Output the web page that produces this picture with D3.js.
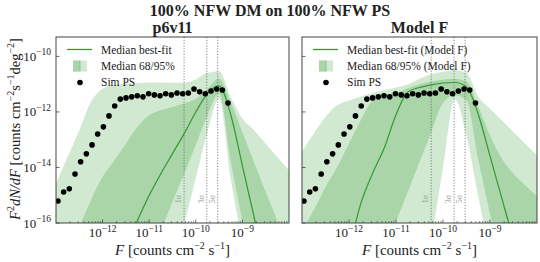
<!DOCTYPE html>
<html>
<head>
<meta charset="utf-8">
<title>100% NFW DM on 100% NFW PS</title>
<style>
    body { margin: 0; background: #fff; }
    svg text { font-family: "Liberation Serif", "DejaVu Serif", serif; fill: #222; }
</style>
</head>
<body>
<svg id="chart" width="540" height="262"></svg>
<script src="https://d3js.org/d3.v7.min.js"></script>
<script>
    // simulated point-source counts, flux bins in counts cm^-2 s^-1
    const simFlux = [1.10e-13, 1.46e-13, 1.93e-13, 2.56e-13, 3.38e-13, 4.48e-13, 5.93e-13, 7.84e-13,
        1.04e-12, 1.37e-12, 1.82e-12, 2.40e-12, 3.18e-12, 4.21e-12, 5.56e-12, 7.36e-12, 9.74e-12,
        1.29e-11, 1.71e-11, 2.26e-11, 2.99e-11, 3.95e-11, 5.23e-11, 6.92e-11, 9.15e-11,
        1.21e-10, 1.60e-10, 2.12e-10, 2.81e-10, 3.71e-10, 4.91e-10];
    const simPS = [6.2e-16, 1.3e-15, 1.7e-15, 5.8e-15, 1.6e-14, 3.1e-14, 6.5e-14, 1.6e-13,
        2.9e-13, 7.2e-13, 1.64e-12, 2.9e-12, 3.2e-12, 3.5e-12, 3.8e-12, 3.5e-12, 4.5e-12,
        4.1e-12, 3.8e-12, 4.5e-12, 4.1e-12, 4.8e-12, 4.5e-12, 4.8e-12, 6.7e-12,
        5.3e-12, 4.5e-12, 5.7e-12, 6.7e-12, 6.2e-12, 2.1e-12];

    // flux grid for the posterior bands
    const bandFlux = [1e-13, 1.78e-13, 3.16e-13, 5.62e-13, 1e-12, 1.78e-12, 3.16e-12, 5.62e-12,
        1e-11, 1.78e-11, 3.16e-11, 5.62e-11, 1e-10, 1.78e-10, 3.16e-10, 5.62e-10,
        1e-9, 1.78e-9, 3.16e-9, 5.62e-9, 1e-8];

    // p6v11 fit
    const p6Median = [1e-18, 1e-18, 1e-18, 1e-18, 1e-18, 2.0e-18, 1.6e-17, 1.26e-16, 1e-15, 6.0e-15, 3.16e-14,
        1.66e-13, 1e-12, 4.57e-12, 8.7e-12, 7.94e-13, 1.15e-14, 1.66e-16, 2.5e-18, 1e-18, 1e-18];
    const p6Hi95 = [2.63e-15, 2.4e-14, 2.19e-13, 2.29e-12, 6.9e-12, 9.1e-12, 1.05e-11, 1.1e-11, 1.15e-11,
        1.15e-11, 1.12e-11, 1.12e-11, 1.48e-11, 2.57e-11, 2.95e-11, 3.5e-12, 5.75e-13, 2.2e-13, 7.2e-14,
        2.4e-14, 7.9e-15];
    const p6Hi68 = [1e-18, 8.1e-18, 7.2e-17, 6.6e-16, 4.6e-15, 1.8e-14, 7.2e-14, 2.9e-13, 7.6e-13, 1.15e-12,
        1.5e-12, 2.0e-12, 3.0e-12, 6.9e-12, 1.58e-11, 2.24e-12, 1.86e-13, 1.55e-14, 1.3e-15, 1.1e-16, 3.2e-18];
    const p6Lo68 = [1e-18, 1e-18, 1e-18, 1e-18, 1e-18, 1e-18, 1e-18, 1e-18, 4.5e-18, 5e-17, 5.8e-16, 6.0e-15,
        6.6e-14, 7.6e-13, 4.6e-12, 1.7e-14, 1.15e-16, 1e-18, 1e-18, 1e-18, 1e-18];
    const p6Lo95 = [1e-18, 1e-18, 1e-18, 1e-18, 1e-18, 1e-18, 1e-18, 1e-18, 1e-18, 1e-18, 2e-18, 8.9e-17,
        4.2e-15, 1.95e-13, 3.0e-12, 3.9e-15, 2.5e-17, 1e-18, 1e-18, 1e-18, 1e-18];

    // Model F fit
    const mfMedian = [1e-18, 1e-18, 1e-18, 1e-18, 1.26e-17, 5.0e-16, 6.0e-15, 5.0e-14, 7.9e-13, 5.25e-12,
        7.6e-12, 9.5e-12, 1.1e-11, 1.15e-11, 7.9e-12, 8.3e-13, 2.6e-14, 7.9e-16, 2.5e-17, 1e-18, 1e-18];
    const mfHi95 = [3.6e-14, 1.66e-13, 6.6e-13, 1.74e-12, 2.6e-12, 3.6e-12, 4.8e-12, 6.0e-12, 7.6e-12,
        9.8e-12, 1.58e-11, 2.3e-11, 2.8e-11, 3.16e-11, 2.5e-11, 3.5e-12, 1.3e-12, 5.0e-13, 1.9e-13,
        7.2e-14, 2.75e-14];
    const mfHi68 = [5.5e-17, 2.9e-16, 2.0e-15, 1.05e-14, 7.2e-14, 5.0e-13, 2.6e-12, 4.0e-12, 4.8e-12,
        7.1e-12, 1.0e-11, 1.26e-11, 1.45e-11, 1.58e-11, 1.26e-11, 1.58e-12, 1.45e-13, 2.1e-14, 6.0e-15,
        2.3e-15, 9.1e-16];
    const mfLo68 = [1e-18, 1e-18, 1e-18, 1e-18, 1e-18, 1e-18, 1e-18, 1e-17, 1.15e-16, 1.3e-15, 1.58e-14,
        1.86e-13, 2.1e-12, 4.0e-12, 2.6e-12, 2.0e-14, 2.2e-16, 5e-18, 1e-18, 1e-18, 1e-18];
    const mfLo95 = [1e-18, 1e-18, 1e-18, 1e-18, 1e-18, 1e-18, 1e-18, 1e-18, 1e-18, 1e-18, 1e-18, 3.2e-17,
        9.5e-15, 2.9e-12, 1.38e-13, 9.3e-16, 1e-17, 1e-18, 1e-18, 1e-18, 1e-18];

    // detection thresholds
    const sigmaFlux = [5.6e-11, 1.72e-10, 2.95e-10];
    const sigmaLabels = ["1σ", "3σ", "5σ"];

    const xTicks = [1e-12, 1e-11, 1e-10, 1e-9];
    const yTicks = [1e-16, 1e-14, 1e-12, 1e-10];

    const lightGreen = "#d0e9d0", darkGreen = "#a9d5a9", lineGreen = "#2f9a2f";
    const plotTop = 37, plotBottom = 223;

    const svg = d3.select("#chart");

    svg.append("text")
        .attr("x", 270).attr("y", 15.5)
        .attr("text-anchor", "middle")
        .attr("font-size", 16).attr("font-weight", "bold")
        .text("100% NFW DM on 100% NFW PS");

    function supText(sel, base, exp, size, supSize) {
        sel.append("tspan").attr("font-size", size).text(base);
        sel.append("tspan").attr("font-size", supSize).attr("dy", -5.5).text(exp);
    }

    function drawPanel(id, left, width, title, fit, legendLabels, yLabels) {
        const x = d3.scaleLog().domain([1e-13, 1e-8]).range([left, left + width]);
        const y = d3.scaleLog().domain([1e-16, 5e-10]).range([plotBottom, plotTop]);

        svg.append("clipPath").attr("id", "clip-" + id)
            .append("rect")
            .attr("x", left).attr("y", plotTop)
            .attr("width", width).attr("height", plotBottom - plotTop);

        const g = svg.append("g").attr("clip-path", "url(#clip-" + id + ")");

        const rows = bandFlux.map(function(f, i) {
            return {f: f, med: fit.med[i], lo95: fit.lo95[i], hi95: fit.hi95[i], lo68: fit.lo68[i], hi68: fit.hi68[i]};
        });

        const area95 = d3.area()
            .x(function(d) { return x(d.f); })
            .y0(function(d) { return y(d.lo95); })
            .y1(function(d) { return y(d.hi95); })
            .curve(d3.curveMonotoneX);
        const area68 = d3.area()
            .x(function(d) { return x(d.f); })
            .y0(function(d) { return y(d.lo68); })
            .y1(function(d) { return y(d.hi68); })
            .curve(d3.curveMonotoneX);
        const line = d3.line()
            .x(function(d) { return x(d.f); })
            .y(function(d) { return y(d.med); })
            .curve(d3.curveMonotoneX);

        g.append("path").datum(rows).attr("fill", lightGreen).attr("d", area95);
        g.append("path").datum(rows).attr("fill", darkGreen).attr("d", area68);
        g.append("path").datum(rows)
            .attr("fill", "none")
            .attr("stroke", lineGreen)
            .attr("stroke-width", 1.2)
            .attr("d", line);

        // threshold lines
        g.selectAll(".sig").data(sigmaFlux).enter().append("line")
            .attr("x1", function(d) { return x(d); })
            .attr("x2", function(d) { return x(d); })
            .attr("y1", plotTop).attr("y2", plotBottom)
            .attr("stroke", "#666")
            .attr("stroke-width", 0.8)
            .attr("stroke-dasharray", "1.2,1.6");
        g.selectAll(".siglab").data(sigmaFlux).enter().append("text")
            .attr("transform", function(d) { return "translate(" + (x(d) - 3) + ",199) rotate(-90)"; })
            .attr("text-anchor", "middle")
            .attr("font-size", 8)
            .style("fill", "#999")
            .text(function(d, i) { return sigmaLabels[i]; });

        g.selectAll(".dot").data(simFlux).enter().append("circle")
            .attr("cx", function(d) { return x(d); })
            .attr("cy", function(d, i) { return y(simPS[i]); })
            .attr("r", 2.8)
            .attr("fill", "#000");

        // frame
        svg.append("rect")
            .attr("x", left).attr("y", plotTop)
            .attr("width", width).attr("height", plotBottom - plotTop)
            .attr("fill", "none")
            .attr("stroke", "#444")
            .attr("stroke-width", 1);

        // x ticks, major and minor, pointing inward
        const minor = [];
        for (let e = -13; e < -8; e++) {
            for (let m = 2; m <= 9; m++) minor.push(m * Math.pow(10, e));
        }
        svg.selectAll(".xminor-" + id).data(minor).enter().append("line")
            .attr("x1", function(d) { return x(d); }).attr("x2", function(d) { return x(d); })
            .attr("y1", plotBottom).attr("y2", plotBottom - 2)
            .attr("stroke", "#444").attr("stroke-width", 0.6);
        svg.selectAll(".xmajor-" + id).data(xTicks).enter().append("line")
            .attr("x1", function(d) { return x(d); }).attr("x2", function(d) { return x(d); })
            .attr("y1", plotBottom).attr("y2", plotBottom - 3.5)
            .attr("stroke", "#444").attr("stroke-width", 0.8);
        xTicks.forEach(function(t) {
            const txt = svg.append("text")
                .attr("x", x(t)).attr("y", 237)
                .attr("text-anchor", "middle");
            supText(txt, "10", "−" + Math.round(-Math.log10(t)), 13, 9.5);
        });

        svg.selectAll(".ymajor-" + id).data(yTicks).enter().append("line")
            .attr("x1", left).attr("x2", left + 3.5)
            .attr("y1", function(d) { return y(d); }).attr("y2", function(d) { return y(d); })
            .attr("stroke", "#444").attr("stroke-width", 0.8);
        if (yLabels) {
            yTicks.forEach(function(t) {
                const txt = svg.append("text")
                    .attr("x", left - 5).attr("y", y(t) + 4.5)
                    .attr("text-anchor", "end");
                supText(txt, "10", "−" + Math.round(-Math.log10(t)), 13, 9.5);
            });
        }

        // x label
        const xl = svg.append("text")
            .attr("x", left + width / 2).attr("y", 255)
            .attr("text-anchor", "middle")
            .attr("font-size", 15);
        xl.append("tspan").attr("font-style", "italic").text("F");
        xl.append("tspan").text(" [counts cm");
        xl.append("tspan").attr("font-size", 10).attr("dy", -6).text("−2");
        xl.append("tspan").attr("dy", 6).text(" s");
        xl.append("tspan").attr("font-size", 10).attr("dy", -6).text("−1");
        xl.append("tspan").attr("dy", 6).text("]");

        // panel title
        svg.append("text")
            .attr("x", left + width / 2).attr("y", 32.5)
            .attr("text-anchor", "middle")
            .attr("font-size", 16).attr("font-weight", "bold")
            .text(title);

        // legend
        const lx = left;
        svg.append("line")
            .attr("x1", lx + 11).attr("x2", lx + 36)
            .attr("y1", 49.5).attr("y2", 49.5)
            .attr("stroke", lineGreen).attr("stroke-width", 1.3);
        svg.append("rect")
            .attr("x", lx + 17).attr("y", 60.5).attr("width", 14).attr("height", 11)
            .attr("fill", lightGreen);
        svg.append("rect")
            .attr("x", lx + 17).attr("y", 60.5).attr("width", 7).attr("height", 11)
            .attr("fill", darkGreen);
        svg.append("line")
            .attr("x1", lx + 24).attr("x2", lx + 24)
            .attr("y1", 60.5).attr("y2", 71.5)
            .attr("stroke", "#7fbf7f").attr("stroke-width", 0.8);
        svg.append("circle")
            .attr("cx", lx + 24).attr("cy", 82.5).attr("r", 2.8)
            .attr("fill", "#000");
        legendLabels.forEach(function(lab, i) {
            svg.append("text")
                .attr("x", lx + 45).attr("y", 53.8 + 16.3 * i)
                .attr("font-size", 11.5)
                .text(lab);
        });
    }

    drawPanel("a", 56, 233, "p6v11",
        {med: p6Median, hi95: p6Hi95, hi68: p6Hi68, lo68: p6Lo68, lo95: p6Lo95},
        ["Median best-fit", "Median 68/95%", "Sim PS"], true);
    drawPanel("b", 302, 235, "Model F",
        {med: mfMedian, hi95: mfHi95, hi68: mfHi68, lo68: mfLo68, lo95: mfLo95},
        ["Median best-fit (Model F)", "Median 68/95% (Model F)", "Sim PS"], false);

    // shared y label
    const yl = svg.append("text")
        .attr("transform", "translate(20,129) rotate(-90)")
        .attr("text-anchor", "middle")
        .attr("font-size", 14.5);
    yl.append("tspan").attr("font-style", "italic").text("F");
    yl.append("tspan").attr("font-size", 10).attr("dy", -6).text("2");
    yl.append("tspan").attr("dy", 6).attr("font-style", "italic").text("dN/dF");
    yl.append("tspan").text(" [counts cm");
    yl.append("tspan").attr("font-size", 10).attr("dy", -6).text("−2");
    yl.append("tspan").attr("dy", 6).text("s");
    yl.append("tspan").attr("font-size", 10).attr("dy", -6).text("−1");
    yl.append("tspan").attr("dy", 6).text("deg");
    yl.append("tspan").attr("font-size", 10).attr("dy", -6).text("−2");
    yl.append("tspan").attr("dy", 6).text("]");
</script>
</body>
</html>
